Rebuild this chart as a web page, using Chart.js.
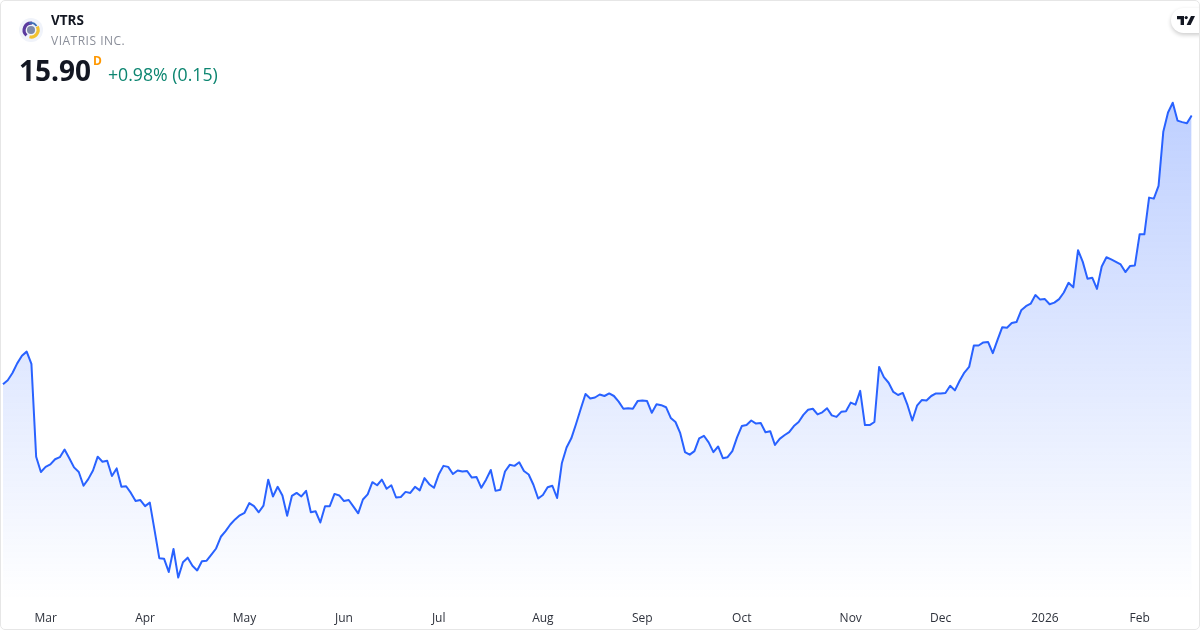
<!DOCTYPE html>
<html>
<head>
<meta charset="utf-8">
<title>VTRS</title>
<script src="https://cdn.jsdelivr.net/npm/chart.js@4"></script>
<style>
  html, body { margin: 0; padding: 0; background: #fff; }
  #card { position: relative; width: 1200px; height: 630px; overflow: hidden; font-family: "Open Sans", sans-serif; }
  #card::after { content: ""; position: absolute; inset: 0; box-sizing: border-box; border: 1px solid #e6e6e6; border-radius: 5px; pointer-events: none; }
  canvas { position: absolute; left: 0; top: 0; }
  .txt { position: absolute; white-space: nowrap; line-height: 1; }
  #symbol { left: 51px; top: 14px; font-size: 13.5px; font-weight: 700; color: #131722; }
  #name { left: 51px; top: 35px; font-size: 12px; letter-spacing: 0.5px; color: #8a8e99; }
  #price { left: 19px; top: 56px; font-size: 28px; font-weight: 700; color: #131722; }
  #interval { left: 93px; top: 55px; font-size: 12px; font-weight: 700; color: #ff9800; }
  #change { left: 108px; top: 66px; font-size: 17.7px; color: #0c8570; }
  #logo { position: absolute; left: 19px; top: 18px; }
  #tv { position: absolute; left: 1171px; top: 8px; width: 40px; height: 25px; border-radius: 12.5px; background: #fff; box-shadow: 0 2px 4px rgba(0,0,0,0.2); }
  #tv svg { position: absolute; left: 6px; top: 8px; }
</style>
</head>
<body>
<div id="card">
  <canvas id="chart" width="1200" height="630"></canvas>
  <svg id="logo" width="24" height="24" viewBox="0 0 24 24">
    <circle cx="12" cy="12" r="12" fill="#f0f3fa"/>
    <path d="M13 5.2A7 7 0 0 0 7.5 17.4" fill="none" stroke="#5b3a9e" stroke-width="3.2"/>
    <path d="M18.2 8.6A7 7 0 0 1 10.5 18.8" fill="none" stroke="#f2c230" stroke-width="3.2"/>
    <path d="M10 5.2A7 7 0 0 1 17.6 8" fill="none" stroke="#3f6fb5" stroke-width="1.6"/>
    <circle cx="12" cy="12" r="4" fill="#7f8aa8"/>
  </svg>
  <div class="txt" id="symbol">VTRS</div>
  <div class="txt" id="name">VIATRIS INC.</div>
  <div class="txt" id="price">15.90</div>
  <div class="txt" id="interval">D</div>
  <div class="txt" id="change">+0.98% (0.15)</div>
  <div id="tv">
    <svg width="18" height="9" viewBox="0 0 18 9">
      <path d="M0 0H7V9H3.6V3.2H0Z" fill="#131722"/>
      <circle cx="9.2" cy="1.6" r="1.6" fill="#131722"/>
      <path d="M14 0H18L13.6 9H9.6Z" fill="#131722"/>
    </svg>
  </div>
</div>
<script>
// VTRS daily closes, Feb 18 2025 to Feb 18 2026

// month name per run of trading days; the year label stands in for January
const MONTHS = ['Feb', 'Mar', 'Apr', 'May', 'Jun', 'Jul', 'Aug', 'Sep', 'Oct', 'Nov', 'Dec', '2026', 'Feb'];
const DAYS_PER_MONTH = [9, 21, 21, 21, 20, 22, 21, 21, 23, 19, 22, 20, 12];

const CLOSES = [
  10.63, 10.71, 10.85, 11.04, 11.19, 11.27, 11.03, 9.21, 8.91, 9.01, 9.06, 9.16, 9.20, 9.35, 9.18, 9.00,
  8.91, 8.64, 8.77, 8.94, 9.21, 9.11, 9.13, 8.83, 8.98, 8.62, 8.63, 8.50, 8.34, 8.36, 8.24, 8.31,
  7.77, 7.22, 7.21, 6.95, 7.40, 6.84, 7.14, 7.23, 7.07, 6.98, 7.16, 7.17, 7.29, 7.41, 7.64, 7.75,
  7.88, 7.98, 8.06, 8.11, 8.30, 8.24, 8.12, 8.25, 8.76, 8.43, 8.62, 8.45, 8.05, 8.44, 8.50, 8.43,
  8.54, 8.12, 8.14, 7.92, 8.24, 8.24, 8.48, 8.45, 8.34, 8.36, 8.23, 8.10, 8.37, 8.47, 8.71, 8.65,
  8.76, 8.58, 8.65, 8.41, 8.42, 8.52, 8.50, 8.62, 8.55, 8.79, 8.67, 8.60, 8.86, 9.03, 9.01, 8.87,
  8.94, 8.92, 8.93, 8.80, 8.81, 8.60, 8.76, 8.95, 8.54, 8.56, 8.92, 9.05, 9.03, 9.10, 8.93, 8.86,
  8.66, 8.39, 8.46, 8.61, 8.64, 8.40, 9.08, 9.39, 9.57, 9.85, 10.15, 10.44, 10.35, 10.37, 10.43, 10.40,
  10.45, 10.40, 10.29, 10.15, 10.16, 10.15, 10.30, 10.31, 10.30, 10.07, 10.24, 10.22, 10.18, 9.97, 9.89, 9.67,
  9.30, 9.25, 9.32, 9.57, 9.62, 9.49, 9.30, 9.41, 9.18, 9.20, 9.32, 9.59, 9.81, 9.83, 9.92, 9.86,
  9.87, 9.69, 9.71, 9.44, 9.56, 9.63, 9.69, 9.81, 9.89, 10.03, 10.13, 10.15, 10.04, 10.08, 10.16, 10.02,
  9.99, 10.09, 10.10, 10.27, 10.23, 10.50, 9.83, 9.83, 9.89, 10.97, 10.77, 10.66, 10.48, 10.42, 10.46, 10.22,
  9.92, 10.21, 10.32, 10.31, 10.40, 10.45, 10.45, 10.46, 10.60, 10.51, 10.70, 10.86, 10.97, 11.39, 11.39, 11.45,
  11.46, 11.24, 11.50, 11.75, 11.74, 11.83, 11.85, 12.08, 12.16, 12.21, 12.38, 12.29, 12.30, 12.20, 12.23, 12.30,
  12.43, 12.62, 12.53, 13.26, 13.03, 12.70, 12.72, 12.50, 12.94, 13.12, 13.08, 13.03, 12.98, 12.83, 12.95, 12.96,
  13.57, 13.57, 14.29, 14.27, 14.52, 15.58, 15.96, 16.15, 15.80, 15.77, 15.75, 15.90
];

const categories = MONTHS.flatMap((m, i) => Array(DAYS_PER_MONTH[i]).fill(m));

// true on the first trading day of each month, apart from the partial first one
const isMonthStart = i => i > 0 && categories[i] !== categories[i - 1];

function areaGradient(context) {
  const { chart } = context;
  if (!chart.chartArea) return 'rgba(41,98,255,0.1)';
  const top = chart.scales.y.getPixelForValue(Math.max(...CLOSES));
  const g = chart.ctx.createLinearGradient(0, top, 0, chart.chartArea.bottom);
  g.addColorStop(0, 'rgba(41,98,255,0.3)');
  g.addColorStop(1, 'rgba(41,98,255,0)');
  return g;
}

new Chart(document.getElementById('chart').getContext('2d'), {
  type: 'line',
  data: {
    labels: categories,
    datasets: [{
      data: CLOSES,
      borderColor: '#2962ff',
      borderWidth: 2,
      borderJoinStyle: 'round',
      backgroundColor: areaGradient,
      fill: 'start',
      pointRadius: 0,
      tension: 0,
    }],
  },
  options: {
    responsive: false,
    animation: false,
    layout: { padding: { left: 3, right: 8.3, top: 90, bottom: 0 } },
    plugins: { legend: { display: false }, tooltip: { enabled: false } },
    scales: {
      x: {
        type: 'category',
        offset: false,
        afterFit: scale => { scale.height = 30; },
        grid: { display: false },
        border: { display: false },
        ticks: {
          autoSkip: false,
          maxRotation: 0,
          minRotation: 0,
          padding: 3,
          color: '#2e323c',
          font: ctx => ({
            family: '"Open Sans", sans-serif',
            size: 12,
            weight: categories[ctx.index] === '2026' ? 'bold' : 'normal',
          }),
          callback: (value, i) => (isMonthStart(i) ? categories[i] : null),
        },
      },
      y: {
        display: false,
        min: 6.4,
        max: 16.4,
      },
    },
  },
});
</script>
</body>
</html>
